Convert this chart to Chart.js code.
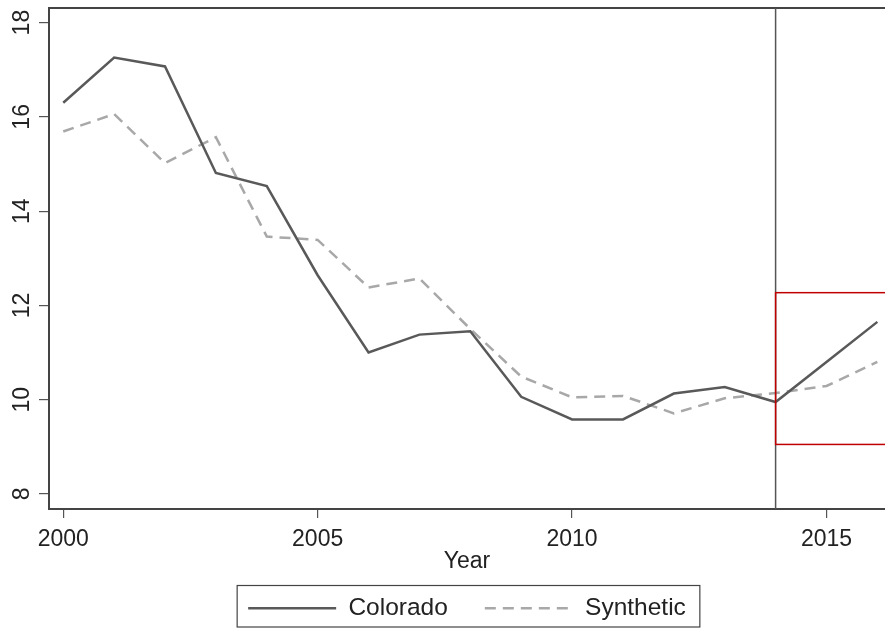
<!DOCTYPE html>
<html>
<head>
<meta charset="utf-8">
<script src="https://cdn.jsdelivr.net/npm/chart.js@4/dist/chart.umd.min.js"></script>
<style>
  html, body { margin: 0; padding: 0; background: #fff; }
  #wrap { width: 885px; height: 629px; }
</style>
</head>
<body>
<div id="wrap"><canvas id="chart"></canvas></div>
<script>
// --- Données ---
const years = [2000, 2001, 2002, 2003, 2004, 2005, 2006, 2007, 2008, 2009, 2010, 2011, 2012, 2013, 2014, 2015, 2016];
const colorado = [16.30, 17.26, 17.07, 14.81, 14.53, 12.64, 11.00, 11.38, 11.45, 10.06, 9.58, 9.58, 10.13, 10.27, 9.95, 10.80, 11.65];
const synthetic = [15.69, 16.06, 15.02, 15.57, 13.46, 13.39, 12.38, 12.57, 11.50, 10.49, 10.05, 10.08, 9.71, 10.03, 10.14, 10.29, 10.80];
const xTicks = [2000, 2005, 2010, 2015];
const yTicks = [8, 10, 12, 14, 16, 18];
const treatYear = 2014;
const boxRange = [9.05, 12.27]; // rectangle rouge (valeurs y)

const AXIS_COLOR = '#444';
const TEXT_COLOR = '#222';
const FONT = { family: 'Liberation Sans, Arial, sans-serif', size: 23 };
const LEGEND_SHIFT = 16; // remonte la légende (padding horizontal large, vertical réduit)

const toPoints = vals => years.map((y, i) => ({ x: y, y: vals[i] }));

// Ligne verticale, cadre rouge, bord supérieur et cadre de légende
const decorations = {
    id: 'decorations',
    afterLayout(chart) {
        // on ne touche qu'au haut : la zone de clip garde le bas d'origine
        if (chart.legend) chart.legend.top -= LEGEND_SHIFT;
    },
    afterDatasetsDraw(chart) {
        const { ctx, chartArea, scales } = chart;
        const xv = scales.x.getPixelForValue(treatYear);
        ctx.save();
        // bord supérieur
        ctx.strokeStyle = AXIS_COLOR;
        ctx.lineWidth = 2;
        ctx.beginPath();
        ctx.moveTo(chartArea.left, chartArea.top);
        ctx.lineTo(chartArea.right, chartArea.top);
        ctx.stroke();
        // ligne verticale
        ctx.strokeStyle = '#555';
        ctx.lineWidth = 1.5;
        ctx.beginPath();
        ctx.moveTo(xv, chartArea.top);
        ctx.lineTo(xv, chartArea.bottom);
        ctx.stroke();
        // rectangle rouge
        const yTop = scales.y.getPixelForValue(boxRange[1]);
        const yBot = scales.y.getPixelForValue(boxRange[0]);
        ctx.strokeStyle = '#c00000';
        ctx.lineWidth = 1.5;
        ctx.strokeRect(xv, yTop, chartArea.right + 10 - xv, yBot - yTop);
        ctx.restore();
    },
    afterDraw(chart) {
        const lg = chart.legend;
        if (!lg || !lg.legendHitBoxes.length) return;
        const hb = lg.legendHitBoxes;
        const left = hb[0].left - 11;
        const right = hb[hb.length - 1].left + hb[hb.length - 1].width + 14;
        const { ctx } = chart;
        ctx.save();
        ctx.strokeStyle = AXIS_COLOR;
        ctx.lineWidth = 1.2;
        ctx.strokeRect(left, 585.5, right - left, 41.5);
        ctx.restore();
    }
};

new Chart(document.getElementById('chart'), {
    type: 'line',
    data: {
        datasets: [
            {
                label: 'Colorado',
                data: toPoints(colorado),
                borderColor: '#595959',
                borderWidth: 2.5,
                pointRadius: 0,
                tension: 0
            },
            {
                label: 'Synthetic',
                data: toPoints(synthetic),
                borderColor: '#a8a8a8',
                borderWidth: 2.5,
                borderDash: [11, 7],
                pointRadius: 0,
                tension: 0
            }
        ]
    },
    options: {
        responsive: true,
        maintainAspectRatio: false,
        animation: false,
        layout: { padding: { top: 8, right: 0, left: 0, bottom: 0 } },
        plugins: {
            tooltip: { enabled: false },
            legend: {
                position: 'bottom',
                fullSize: false,
                maxHeight: 54,
                labels: {
                    usePointStyle: true,
                    pointStyleWidth: 88,
                    pointStyle: 'line',
                    padding: 37,
                    color: TEXT_COLOR,
                    font: { family: FONT.family, size: 24.5 },
                    // tirets et épaisseur repris des datasets
                    generateLabels(chart) {
                        const items = Chart.defaults.plugins.legend.labels.generateLabels(chart);
                        items.forEach((it, i) => {
                            const ds = chart.data.datasets[i];
                            it.lineDash = ds.borderDash || [];
                            it.lineWidth = ds.borderWidth;
                            it.strokeStyle = ds.borderColor;
                        });
                        return items;
                    }
                }
            }
        },
        scales: {
            x: {
                type: 'linear',
                min: 1999.72,
                max: 2016.15,
                afterBuildTicks: scale => { scale.ticks = xTicks.map(v => ({ value: v })); },
                afterFit: scale => { scale.height = 66; },
                border: { color: AXIS_COLOR, width: 2 },
                grid: { drawOnChartArea: false, drawTicks: true, tickLength: 9, color: '#555', lineWidth: 1.2 },
                ticks: {
                    color: TEXT_COLOR,
                    padding: 8,
                    maxRotation: 0,
                    font: FONT,
                    callback: v => String(v)
                },
                title: {
                    display: true,
                    text: 'Year',
                    color: TEXT_COLOR,
                    padding: 0,
                    font: FONT
                }
            },
            y: {
                min: 7.68,
                max: 18.31,
                afterBuildTicks: scale => { scale.ticks = yTicks.map(v => ({ value: v })); },
                afterFit: scale => { scale.width = 49; scale.paddingTop = 0; scale.paddingBottom = 0; },
                border: { color: AXIS_COLOR, width: 2 },
                grid: { drawOnChartArea: false, drawTicks: true, tickLength: 10, color: '#555', lineWidth: 1.2 },
                ticks: {
                    color: TEXT_COLOR,
                    padding: 4,
                    minRotation: 90,
                    maxRotation: 90,
                    crossAlign: 'center',
                    font: FONT,
                    callback: v => String(v)
                }
            }
        }
    },
    plugins: [decorations]
});
</script>
</body>
</html>
